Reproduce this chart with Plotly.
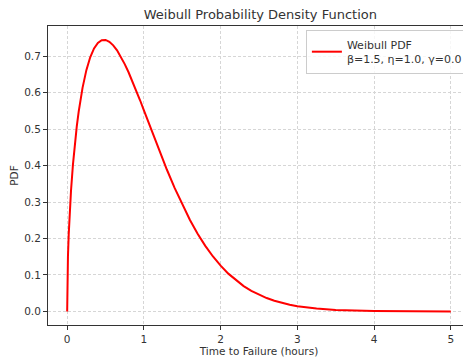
import plotly.graph_objects as go

# Values (Weibull PDF, beta=1.5, eta=1.0)
time_hours = [0.0, 0.001, 0.005, 0.01, 0.02, 0.03, 0.05, 0.075, 0.1, 0.125, 0.15,
              0.175, 0.2, 0.25, 0.3, 0.35, 0.4, 0.45, 0.5, 0.55, 0.6, 0.65, 0.7,
              0.75, 0.8, 0.85, 0.9, 0.95, 1.0, 1.05, 1.1, 1.2, 1.3, 1.4, 1.5, 1.6,
              1.7, 1.8, 1.9, 2.0, 2.1, 2.2, 2.3, 2.4, 2.5, 2.6, 2.7, 2.8, 2.9, 3.0,
              3.1, 3.25, 3.5, 3.75, 4.0, 4.5, 5.0]
pdf_values = [0.0, 0.0474, 0.106, 0.1499, 0.2115, 0.2585, 0.3317, 0.4025, 0.4596,
              0.5074, 0.5482, 0.5832, 0.6134, 0.6619, 0.6971, 0.7215, 0.7367, 0.7440,
              0.7448, 0.7397, 0.7300, 0.7162, 0.6987, 0.6785, 0.6561, 0.6316, 0.6059,
              0.5793, 0.5518, 0.5241, 0.4963, 0.4414, 0.3886, 0.3387, 0.2926, 0.2507,
              0.2132, 0.1799, 0.1507, 0.1254, 0.1036, 0.0852, 0.0695, 0.0564, 0.0455,
              0.0366, 0.0292, 0.0232, 0.0183, 0.0144, 0.0113, 0.0077, 0.0040, 0.0020,
              0.0010, 0.0002, 0.00005]
x_ticks = [0, 1, 2, 3, 4, 5]
y_ticks = [0.0, 0.1, 0.2, 0.3, 0.4, 0.5, 0.6, 0.7]
series_name = "Weibull PDF<br>β=1.5, η=1.0, γ=0.0"

fig = go.Figure()
fig.add_trace(go.Scatter(x=time_hours, y=pdf_values, mode="lines",
                         line=dict(color="red", width=2), name=series_name,
                         showlegend=True))

axis_common = dict(showline=True, mirror=True, linecolor="#333333", linewidth=1,
                   ticks="outside", ticklen=4, tickcolor="#333333",
                   showgrid=True, gridcolor="#d6d6d6", griddash="3px,2px", gridwidth=1,
                   zeroline=False, tickfont=dict(size=10.5, color="#333333"))

# the page body adds an 8px offset, so the figure is sized to fit inside the window
fig.update_layout(
    width=463, height=355,
    margin=dict(l=40, r=1, t=18, b=38),
    paper_bgcolor="white", plot_bgcolor="white",
    font=dict(family="DejaVu Sans", color="#333333"),
    title=dict(text="Weibull Probability Density Function", x=0.545, xanchor="center",
               y=0.983, yanchor="middle", font=dict(size=13, color="#333333")),
    xaxis=dict(range=[-0.25, 5.25], tickvals=x_ticks,
               title=dict(text="Time to Failure (hours)", font=dict(size=10.5), standoff=4),
               **axis_common),
    yaxis=dict(range=[-0.0373, 0.783], tickvals=y_ticks, tickformat=".1f",
               title=dict(text="PDF", font=dict(size=10.5), standoff=6),
               **axis_common),
    legend=dict(x=0.995, y=0.987, xanchor="right", yanchor="top",
                bgcolor="rgba(255,255,255,0.8)", bordercolor="#cccccc", borderwidth=1,
                font=dict(size=11, color="#333333")),
)

fig.write_html("out.html")
